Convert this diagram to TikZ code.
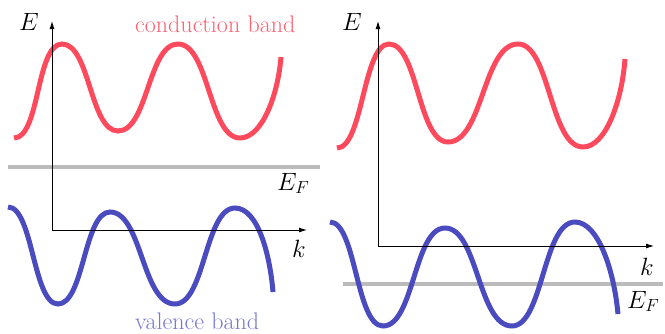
\RequirePackage{fix-cm}
\documentclass[tikz,border=0pt]{standalone}
\usetikzlibrary{arrows.meta}
\definecolor{cbred}{RGB}{255,74,94}
\definecolor{cbredlab}{RGB}{255,96,114}
\definecolor{vbblue}{RGB}{75,75,192}
\definecolor{vbbluelab}{RGB}{120,120,210}
\definecolor{fermigray}{RGB}{187,187,187}
\tikzset{
  band/.style={line width=5pt},
  condband/.style={band, draw=cbred},
  valband/.style={band, draw=vbblue},
  fermi/.style={line width=3.5pt, draw=fermigray},
  axis/.style={line width=0.9pt, draw=black, -{Latex[length=8pt,width=5pt]}},
  lab/.style={inner sep=0pt, anchor=base west, font=\fontsize{24}{28}\selectfont},
  mlab/.style={inner sep=0pt, anchor=base west, font=\fontsize{25}{29}\selectfont},
}
\begin{document}
\begin{tikzpicture}[x=1pt,y=-1pt]
\useasboundingbox (0,0) rectangle (665,333);
% ---------- left panel ----------
\draw[fermi] (8,167) -- (320,167);
\draw[condband] (14,138) .. controls (40,138) and (36,44) .. (62,44)
  .. controls (90,44) and (90,131) .. (118,131)
  .. controls (148,131) and (148,44) .. (178,44)
  .. controls (209,44) and (209,138) .. (240,138)
  .. controls (262,138) and (278,95) .. (281,57);
\draw[valband] (8,207) .. controls (33,207) and (33,304) .. (58,304)
  .. controls (84,304) and (84,212) .. (110,212)
  .. controls (142,212) and (142,304) .. (175,304)
  .. controls (205,304) and (205,208) .. (235,208)
  .. controls (258,208) and (270,255) .. (273,292);
\coordinate (O1) at (52,230);
\coordinate (Etop1) at (52,21);
\coordinate (kend1) at (307,230);
\draw[axis] (O1) -- (Etop1);
\draw[axis] (O1) -- (kend1);
\node[mlab] (E1) at (19,30) {$E$};
\node[mlab] (k1) at (292,257) {$k$};
\node[mlab] (EF1) at (277,190) {$E_F$};
\node[lab, text=cbredlab] (cb) at (135,32) {conduction band};
\node[lab, text=vbbluelab] (vb) at (135,329) {valence band};
% ---------- right panel ----------
\draw[fermi] (343,284) -- (663,284);
\draw[condband] (337,148) .. controls (363,148) and (363,44) .. (389,44)
  .. controls (418,44) and (418,142) .. (448,142)
  .. controls (483,142) and (483,44) .. (518,44)
  .. controls (550,44) and (550,147) .. (583,147)
  .. controls (606,147) and (622,100) .. (625,59);
\draw[valband] (330,222) .. controls (356,222) and (356,326) .. (383,326)
  .. controls (414,326) and (414,228) .. (445,228)
  .. controls (478,228) and (478,326) .. (512,326)
  .. controls (543,326) and (543,222) .. (575,222)
  .. controls (598,222) and (614,270) .. (618,314);
\coordinate (O2) at (378,246);
\coordinate (Etop2) at (378,21);
\coordinate (kend2) at (654,246);
\draw[axis] (O2) -- (Etop2);
\draw[axis] (O2) -- (kend2);
\node[mlab] (E2) at (342,30) {$E$};
\node[mlab] (k2) at (640,275) {$k$};
\node[mlab] (EF2) at (627,308) {$E_F$};
\end{tikzpicture}
\end{document}
